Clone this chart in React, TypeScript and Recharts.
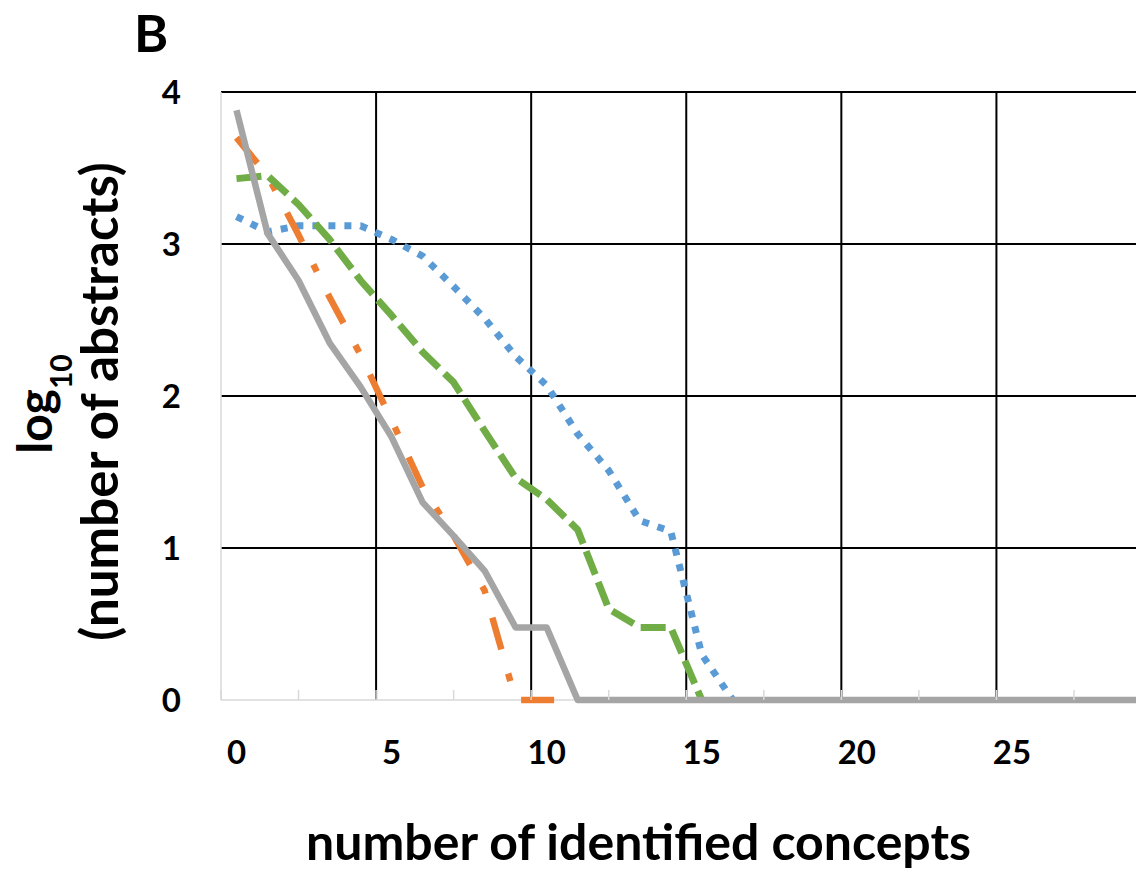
import React from 'react';
import { LineChart, Line, XAxis, YAxis, CartesianGrid } from 'recharts';

// categories: number of identified concepts (0..29)
const categories: number[] = Array.from({ length: 30 }, (_, i) => i);

// log10(number of abstracts) per series
const blueSeries: (number | null)[] = [3.18, 3.08, 3.12, 3.12, 3.12, 3.03, 2.92, 2.72, 2.51, 2.26, 2.07, 1.75, 1.51, 1.18, 1.11, 0.30, 0];
const orangeSeries: (number | null)[] = [3.70, 3.45, 3.06, 2.65, 2.27, 1.84, 1.40, 1.08, 0.72, 0, 0, 0];
const greenSeries: (number | null)[] = [3.43, 3.45, 3.26, 3.03, 2.76, 2.53, 2.29, 2.09, 1.77, 1.46, 1.32, 1.12, 0.60, 0.477, 0.477, 0];
const graySeries: (number | null)[] = [3.88, 3.07, 2.76, 2.35, 2.06, 1.73, 1.30, 1.08, 0.85, 0.477, 0.477, 0, 0, 0, 0, 0, 0, 0, 0, 0, 0, 0, 0, 0, 0, 0, 0, 0, 0, 0];

const xLabelTicks: number[] = [0, 5, 10, 15, 20, 25];
const xMinorTicks: number[] = [-0.5, 2, 4.5, 7, 9.5, 12, 14.5, 17, 19.5, 22, 24.5, 27];
const xGridLines: number[] = [4.5, 9.5, 14.5, 19.5, 24.5];
const yTicks: number[] = [0, 1, 2, 3, 4];
const yGridLines: number[] = [1, 2, 3, 4];
const yBaseLine: number[] = [0];

const X_DOMAIN: [number, number] = [-0.5, 29];
const Y_DOMAIN: [number, number] = [0, 4];

const data = categories.map((c, i) => ({
  x: c,
  blue: i < blueSeries.length ? blueSeries[i] : null,
  orange: i < orangeSeries.length ? orangeSeries[i] : null,
  green: i < greenSeries.length ? greenSeries[i] : null,
  gray: i < graySeries.length ? graySeries[i] : null,
}));

const FONT = 'Lato, "Open Sans", sans-serif';
const X_TICK_MARGIN = 41;

const XTick = (p: any) => {
  const v = p.payload ? p.payload.value : undefined;
  if (xLabelTicks.includes(v)) {
    return (
      <text x={p.x} y={p.y} dy="0.71em" textAnchor="middle" fill="#000" fontSize={33} fontWeight={700} fontFamily={FONT}>
        {v}
      </text>
    );
  }
  return (
    <line x1={p.x} x2={p.x} y1={p.y - X_TICK_MARGIN} y2={p.y - X_TICK_MARGIN - 10} stroke="#d9d9d9" strokeWidth={1.5} />
  );
};

const vGen = (props: any) => {
  const ax = props && props.xAxis;
  if (ax && typeof ax.scale === 'function') return xGridLines.map((v) => ax.scale(v));
  const off = props.offset;
  return xGridLines.map((v) => off.left + ((v - X_DOMAIN[0]) / (X_DOMAIN[1] - X_DOMAIN[0])) * off.width);
};
const makeHGen = (values: number[]) => (props: any) => {
  const ax = props && props.yAxis;
  if (ax && typeof ax.scale === 'function') return values.map((v) => ax.scale(v));
  const off = props.offset;
  return values.map((v) => off.top + off.height - ((v - Y_DOMAIN[0]) / (Y_DOMAIN[1] - Y_DOMAIN[0])) * off.height);
};
const hGen = makeHGen(yGridLines);
const baseGen = makeHGen(yBaseLine);

export default function App() {
  return (
    <div style={{ position: 'absolute', left: 0, top: 0, width: 1140, height: 876, background: '#fff' }}>
      <LineChart width={1140} height={876} data={data} margin={{ top: 92, right: 4, left: 0, bottom: 0 }}>
        <CartesianGrid
          stroke="#000"
          strokeWidth={2}
          fill="none"
          horizontalCoordinatesGenerator={hGen}
          verticalCoordinatesGenerator={vGen}
        />
        <CartesianGrid
          stroke="#d9d9d9"
          strokeWidth={1.5}
          fill="none"
          vertical={false}
          horizontalCoordinatesGenerator={baseGen}
        />
        <XAxis
          dataKey="x"
          type="number"
          domain={X_DOMAIN}
          allowDataOverflow
          ticks={[...xMinorTicks, ...xLabelTicks].sort((a, b) => a - b)}
          interval={0}
          tickLine={false}
          tickSize={0}
          tickMargin={X_TICK_MARGIN}
          axisLine={false}
          height={176}
          tick={<XTick />}
        />
        <YAxis
          type="number"
          domain={Y_DOMAIN}
          ticks={yTicks}
          interval={0}
          tickLine={false}
          tickSize={0}
          tickMargin={40}
          width={221}
          axisLine={{ stroke: '#d9d9d9', strokeWidth: 1.5 }}
          tick={{ fill: '#000', fontSize: 33, fontWeight: 700, fontFamily: FONT }}
        />
        <Line type="linear" dataKey="blue" stroke="#5B9BD5" strokeWidth={7} strokeDasharray="7 9" dot={false} isAnimationActive={false} strokeLinejoin="round" />
        <Line type="linear" dataKey="orange" stroke="#ED7D31" strokeWidth={6.5} strokeDasharray="33 25 8 25" dot={false} isAnimationActive={false} strokeLinejoin="round" />
        <Line type="linear" dataKey="green" stroke="#70AD47" strokeWidth={7} strokeDasharray="25 8" dot={false} isAnimationActive={false} strokeLinejoin="round" />
        <Line type="linear" dataKey="gray" stroke="#A5A5A5" strokeWidth={6.5} dot={false} isAnimationActive={false} strokeLinejoin="round" />
      </LineChart>
      <svg width={1140} height={876} style={{ position: 'absolute', left: 0, top: 0, pointerEvents: 'none' }}>
        <text x={134} y={52} fontSize={52} fontWeight={700} fontFamily={FONT} fill="#000">B</text>
        <text x={638.5} y={860} textAnchor="middle" fontSize={50} fontWeight={700} fontFamily={FONT} fill="#000">
          number of identified concepts
        </text>
        <text transform="translate(118, 401.5) rotate(-90)" textAnchor="middle" fontSize={51} fontWeight={700} fontFamily={FONT} fill="#000">
          (number of abstracts)
        </text>
        <text transform="translate(52, 404) rotate(-90)" textAnchor="middle" fontSize={48} fontWeight={700} fontFamily={FONT} fill="#000">
          log
          <tspan fontSize={30} dy={20}>10</tspan>
        </text>
      </svg>
    </div>
  );
}
